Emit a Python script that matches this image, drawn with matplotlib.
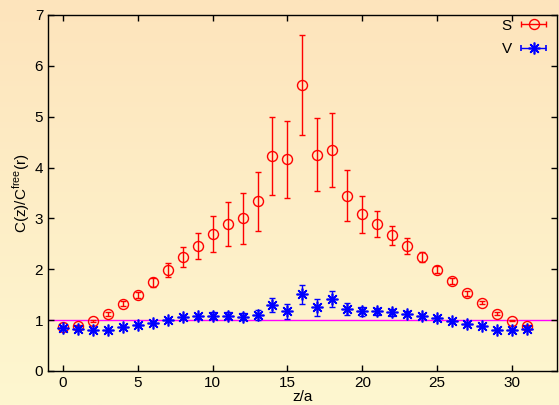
import numpy as np
import matplotlib.pyplot as plt
from matplotlib.legend_handler import HandlerErrorbar

plt.rcParams['font.family'] = ['Liberation Sans', 'DejaVu Sans']
plt.rcParams['font.size'] = 10

z = np.arange(32)

s_val = [0.87, 0.89, 0.99, 1.12, 1.32, 1.49, 1.74, 1.98, 2.24, 2.46, 2.69, 2.89,
         3.00, 3.34, 4.23, 4.16, 5.62, 4.25, 4.35, 3.45, 3.08, 2.89, 2.67, 2.46,
         2.24, 1.99, 1.77, 1.53, 1.34, 1.13, 0.99, 0.89]
s_err = [0.01, 0.01, 0.02, 0.03, 0.05, 0.06, 0.08, 0.14, 0.20, 0.25, 0.36, 0.44,
         0.50, 0.58, 0.77, 0.75, 0.98, 0.72, 0.73, 0.51, 0.36, 0.26, 0.19, 0.15,
         0.10, 0.07, 0.06, 0.05, 0.03, 0.02, 0.01, 0.01]

v_val = [0.85, 0.82, 0.80, 0.80, 0.86, 0.90, 0.95, 1.00, 1.06, 1.08, 1.09, 1.09,
         1.07, 1.10, 1.30, 1.17, 1.51, 1.25, 1.42, 1.22, 1.17, 1.17, 1.15, 1.13,
         1.09, 1.04, 0.98, 0.92, 0.88, 0.81, 0.81, 0.82]
v_err = [0.01, 0.01, 0.01, 0.01, 0.02, 0.02, 0.02, 0.03, 0.04, 0.05, 0.06, 0.07,
         0.07, 0.10, 0.14, 0.15, 0.19, 0.16, 0.16, 0.11, 0.08, 0.07, 0.06, 0.05,
         0.04, 0.03, 0.03, 0.02, 0.02, 0.01, 0.01, 0.01]

star = (8, 2, 0)

fig = plt.figure(figsize=(5.59, 4.05), dpi=100)

# gradient background (peach at top -> pale yellow at bottom)
bg = fig.add_axes([0, 0, 1, 1], zorder=-10)
top = np.array([253, 228, 188]) / 255
bot = np.array([254, 247, 208]) / 255
t = np.linspace(0, 1, 256)[:, None]
grad = (top * (1 - t) + bot * t)[:, None, :]
bg.imshow(grad, aspect='auto', extent=[0, 1, 0, 1])
bg.axis('off')

ax = fig.add_axes([0.086, 0.084, 0.910, 0.879])
ax.patch.set_alpha(0)

ax.axhline(1.0, color='#ff00ff', lw=1.0, zorder=1)

ax.errorbar(z, s_val, yerr=s_err, fmt='o', mfc='none', mec='red', color='red',
            ms=7.2, mew=1, elinewidth=1, capsize=2.5, capthick=1, zorder=3)
ax.errorbar(z, v_val, yerr=v_err, fmt='none', ecolor='blue',
            elinewidth=1, capsize=2.5, capthick=1, zorder=3)
ax.plot(z, v_val, ls='none', marker=star, ms=8.5, mew=1.2, color='blue', zorder=4)

# legend handles (drawn outside the visible range, only used for the key)
hs = ax.errorbar([100], [100], xerr=[1], ls='none', marker='o', mfc='none',
                 mec='red', color='red', ecolor='red', ms=7.2, mew=1,
                 elinewidth=1, capsize=2.5)
hv = ax.errorbar([100], [100], xerr=[1], ls='none', marker=star, color='blue',
                 ecolor='blue', ms=8.5, mew=1.2, elinewidth=1, capsize=2.5)
herr = HandlerErrorbar(xerr_size=0.82)
leg = ax.legend([hs, hv], ['S', 'V'], loc='upper right', frameon=False,
                markerfirst=False, fontsize=11, handlelength=2.3,
                bbox_to_anchor=(0.997, 1.0),
                borderaxespad=0.0, borderpad=0.25, labelspacing=0.6,
                handletextpad=0.3, handler_map={hs: herr, hv: herr})

ax.set_xlim(-1, 33)
ax.set_ylim(0, 7)
ax.set_xticks(range(0, 31, 5))
ax.set_yticks(range(0, 8))
ax.tick_params(direction='in', top=True, right=True, length=4, width=1, labelsize=11)
for sp in ax.spines.values():
    sp.set_linewidth(1)

ax.set_xlabel('z/a', fontsize=11, labelpad=0)
ax.set_ylabel(r'C(z)/C$^{\mathregular{free}}$(r)', fontsize=11, labelpad=2)

fig.savefig('out.png', dpi=100)
